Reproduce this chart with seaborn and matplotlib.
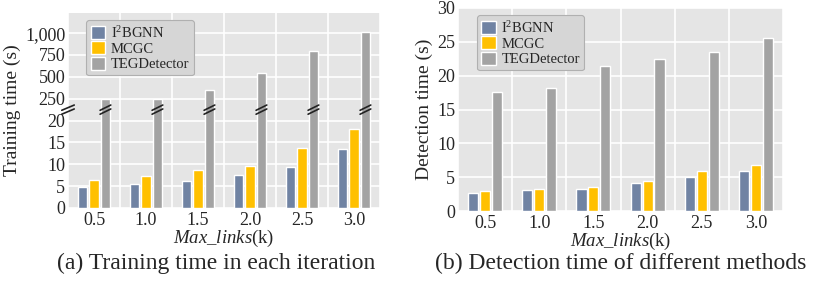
import numpy as np
import pandas as pd
import matplotlib
matplotlib.use("Agg")
import matplotlib.pyplot as plt
import seaborn as sns

# Data
max_links = ["0.5", "1.0", "1.5", "2.0", "2.5", "3.0"]
methods = ["I$^2$BGNN", "MCGC", "TEGDetector"]
train_i2bgnn = [4.8, 5.5, 6.2, 7.5, 9.4, 13.5]
train_mcgc = [6.5, 7.3, 8.8, 9.7, 13.7, 18.1]
train_teg = [245, 252, 355, 540, 790, 1010]
detect_i2bgnn = [2.7, 3.05, 3.3, 4.2, 5.0, 5.85]
detect_mcgc = [3.0, 3.2, 3.55, 4.5, 5.85, 6.8]
detect_teg = [17.6, 18.2, 21.5, 22.5, 23.5, 25.5]
train_ticks = [0, 5, 10, 15, 20, 250, 500, 750, 1000]
detect_ticks = [0, 5, 10, 15, 20, 25, 30]
colors = ["#7083a3", "#ffc000", "#a3a3a3"]

sns.set_theme(style="darkgrid")
plt.rcParams["font.family"] = ["Liberation Serif", "DejaVu Serif"]
plt.rcParams["mathtext.fontset"] = "custom"
plt.rcParams["mathtext.rm"] = "Liberation Serif"
plt.rcParams["mathtext.it"] = "Liberation Serif:italic"
plt.rcParams["axes.facecolor"] = "#e5e5e5"


def make_df(a, b, c):
    rows = []
    for vals, m in zip([a, b, c], methods):
        for x, v in zip(max_links, vals):
            rows.append({"links": x, "method": m, "time": v})
    return pd.DataFrame(rows)


# piecewise scale for the broken axis: 0..20 linear, 250..1000 compressed
def fwd(v):
    v = np.asarray(v, dtype=float)
    mid = 20 + (v - 20) / 230 * 5
    return np.where(v <= 20, v, np.where(v >= 250, 25 + (v - 250) / 50, mid))


def inv(t):
    t = np.asarray(t, dtype=float)
    mid = 20 + (t - 20) / 5 * 230
    return np.where(t <= 20, t, np.where(t >= 25, 250 + (t - 25) * 50, mid))


fig = plt.figure(figsize=(8.31, 2.81), dpi=100)
ax1 = fig.add_axes([68 / 831, 73 / 281, 312 / 831, 195 / 281])
ax2 = fig.add_axes([458 / 831, 70 / 281, 325 / 831, 203 / 281])

for ax, df in [(ax1, make_df(train_i2bgnn, train_mcgc, train_teg)),
               (ax2, make_df(detect_i2bgnn, detect_mcgc, detect_teg))]:
    sns.barplot(data=df, x="links", y="time", hue="method", palette=colors,
                width=0.66, gap=0.15, saturation=1, ax=ax)
    ax.set_xlim(-0.5, len(max_links) - 0.5)
    ax.set_xticks(np.arange(-0.5, len(max_links), 1.0), minor=True)
    ax.grid(False, axis="x", which="major")
    ax.grid(True, axis="x", which="minor", color="white", linewidth=1.2)
    ax.grid(True, axis="y", color="white", linewidth=1.2)
    ax.tick_params(axis="both", which="both", length=0, labelsize=13)
    ax.tick_params(axis="x", pad=3)
    ax.tick_params(axis="y", pad=2)
    ax.set_xlabel("$\\mathit{Max\\_links}$(k)", fontsize=13.5, labelpad=-1)
    for s in ax.spines.values():
        s.set_visible(False)
    leg = ax.legend(loc="upper left", fontsize=10.5, frameon=True, fancybox=True,
                    facecolor="#d6d6d6", edgecolor="#b0b0b0", framealpha=1,
                    handlelength=1.0, handleheight=1.0, handletextpad=0.4,
                    labelspacing=0.05, borderpad=0.3, bbox_to_anchor=(0.035, 1.0))
    leg.get_frame().set_linewidth(0.8)

# left: broken axis
ax1.set_yscale("function", functions=(fwd, inv))
ax1.set_ylim(0, 1230)
ax1.set_yticks(train_ticks)
ax1.set_yticklabels([f"{t:,}" for t in train_ticks])
ax1.set_ylabel("Training time (s)", fontsize=14, labelpad=3)

# break marks on the left edge and on the tall bars
for p in ax1.patches:
    if p.get_height() > 100:
        x0 = p.get_x()
        w = p.get_width()
        for dy in (-0.45, 0.45):
            ax1.plot([x0 - w * 0.05, x0 + w * 1.05],
                     [inv(22.5 + dy - 0.6), inv(22.5 + dy + 0.6)],
                     color="#222222", linewidth=1.2, clip_on=False, zorder=5)
for dy in (-0.45, 0.45):
    ax1.plot([-0.62, -0.38], [inv(22.5 + dy - 0.6), inv(22.5 + dy + 0.6)],
             color="#222222", linewidth=1.2, clip_on=False, zorder=5)

# right
ax2.set_ylim(0, 30)
ax2.set_yticks(detect_ticks)
ax2.set_ylabel("Detection time (s)", fontsize=14, labelpad=3)

fig.text(216 / 831, 18 / 281, "(a) Training time in each iteration",
         ha="center", va="center", fontsize=17)
fig.text(621 / 831, 18 / 281, "(b) Detection time of different methods",
         ha="center", va="center", fontsize=17)

fig.savefig("out.png", dpi=100)
